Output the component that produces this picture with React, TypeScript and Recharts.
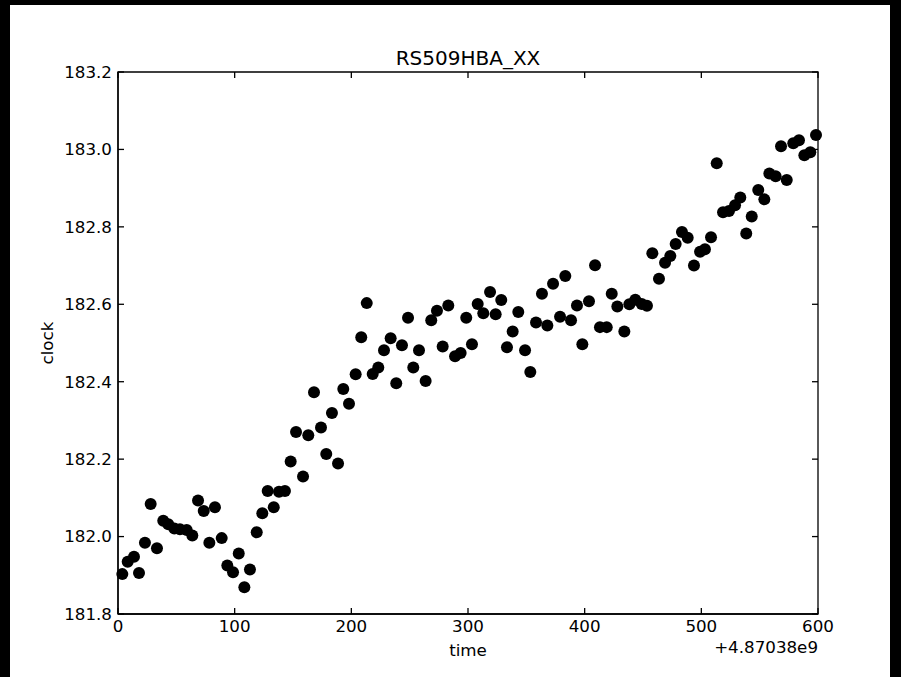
import { ScatterChart, Scatter, XAxis, YAxis, ReferenceArea } from 'recharts';

// time offset from 4.87038e9 (seconds)
const TIMES = [
  3.7, 8.3, 13.7, 18.0, 23.1, 28.0, 33.4, 38.8, 43.1, 48.3,
  53.1, 58.9, 63.7, 68.6, 73.5, 78.3, 83.1, 88.9, 93.7, 98.6,
  103.5, 108.3, 113.1, 118.9, 123.7, 128.3, 133.5, 138.0, 143.1, 148.0,
  152.6, 158.6, 163.1, 168.0, 174.0, 178.5, 183.4, 188.6, 193.1, 198.0,
  203.7, 208.5, 213.2, 218.3, 223.1, 228.0, 233.7, 238.5, 243.4, 248.6,
  253.1, 258.0, 263.7, 268.5, 273.4, 278.3, 283.1, 288.9, 293.7, 298.5,
  303.4, 308.3, 313.1, 318.9, 323.7, 328.5, 333.4, 338.3, 343.1, 348.9,
  353.4, 358.3, 363.4, 368.0, 372.9, 378.9, 383.4, 388.3, 393.4, 398.0,
  403.7, 408.9, 413.1, 418.9, 423.2, 428.0, 434.0, 438.3, 443.4, 448.9,
  453.4, 458.0, 463.7, 468.9, 473.4, 478.0, 483.4, 488.3, 493.7, 498.9,
  503.1, 508.3, 513.2, 518.6, 523.7, 528.9, 533.4, 538.5, 543.2, 548.8,
  554.0, 558.3, 563.7, 568.3, 573.2, 578.8, 583.7, 588.3, 593.4, 598.3,
];

const CLOCK = [
  181.903, 181.935, 181.948, 181.906, 181.984, 182.084, 181.970, 182.041, 182.032, 182.021,
  182.019, 182.017, 182.003, 182.093, 182.066, 181.984, 182.076, 181.996, 181.925, 181.908,
  181.956, 181.869, 181.915, 182.011, 182.060, 182.118, 182.076, 182.116, 182.118, 182.194,
  182.270, 182.155, 182.262, 182.373, 182.282, 182.213, 182.319, 182.189, 182.381, 182.343,
  182.419, 182.515, 182.603, 182.420, 182.437, 182.481, 182.512, 182.396, 182.494, 182.565,
  182.437, 182.481, 182.402, 182.559, 182.583, 182.491, 182.597, 182.466, 182.474, 182.565,
  182.497, 182.601, 182.577, 182.632, 182.574, 182.611, 182.489, 182.530, 182.580, 182.481,
  182.425, 182.553, 182.627, 182.545, 182.653, 182.568, 182.673, 182.559, 182.597, 182.497,
  182.608, 182.701, 182.541, 182.541, 182.627, 182.594, 182.530, 182.600, 182.612, 182.601,
  182.596, 182.732, 182.666, 182.707, 182.725, 182.756, 182.787, 182.772, 182.700, 182.736,
  182.742, 182.773, 182.964, 182.838, 182.841, 182.856, 182.876, 182.783, 182.827, 182.895,
  182.871, 182.938, 182.931, 183.008, 182.921, 183.016, 183.024, 182.985, 182.993, 183.037,
];

const X_TICKS = [0, 100, 200, 300, 400, 500, 600];
const Y_TICKS = [181.8, 182.0, 182.2, 182.4, 182.6, 182.8, 183.0, 183.2];
const X_DOMAIN = [0, 600];
const Y_DOMAIN = [181.8, 183.2];

const FONT = '"DejaVu Sans", sans-serif';
const TICK_STYLE = { fontSize: 16.7, fill: '#000', fontFamily: FONT };
const LINE = { stroke: '#000', strokeWidth: 1.3 };

const Dot = (props: any) => <circle cx={props.cx} cy={props.cy} r={6} fill="#000" />;
const NoDot = () => <g />;

// axes that only draw inward tick marks (matplotlib style)
const inwardX = (id: string, orientation: 'top' | 'bottom') => (
  <XAxis
    key={id}
    xAxisId={id}
    orientation={orientation}
    type="number"
    dataKey="time"
    domain={X_DOMAIN}
    ticks={X_TICKS}
    mirror
    height={6}
    tickFormatter={() => ''}
    tickSize={6}
    axisLine={false}
    tickLine={LINE}
  />
);

const inwardY = (id: string, orientation: 'left' | 'right') => (
  <YAxis
    key={id}
    yAxisId={id}
    orientation={orientation}
    type="number"
    dataKey="clock"
    domain={Y_DOMAIN}
    ticks={Y_TICKS}
    mirror
    width={6}
    tickFormatter={() => ''}
    tickSize={6}
    axisLine={false}
    tickLine={LINE}
  />
);

export default function App() {
  const points = TIMES.map((t, i) => ({ time: t, clock: CLOCK[i] }));

  return (
    <div style={{ position: 'fixed', left: 0, top: 0, width: 901, height: 677, background: '#000' }}>
      <div style={{ position: 'absolute', left: 10, top: 5, width: 880, height: 672, background: '#fff' }} />
      <div style={{ position: 'absolute', left: 0, top: 0 }}>
        <ScatterChart
          width={901}
          height={677}
          margin={{ top: 72, right: 83, bottom: 33, left: 58 }}
        >
          <XAxis
            xAxisId="bottom"
            type="number"
            dataKey="time"
            domain={X_DOMAIN}
            ticks={X_TICKS}
            height={30}
            tick={TICK_STYLE}
            tickSize={0}
            tickMargin={6}
            axisLine={LINE}
            tickLine={false}
          />
          <YAxis
            yAxisId="left"
            type="number"
            dataKey="clock"
            domain={Y_DOMAIN}
            ticks={Y_TICKS}
            width={60}
            tick={TICK_STYLE}
            tickFormatter={(v: number) => v.toFixed(1)}
            tickSize={0}
            tickMargin={6}
            axisLine={LINE}
            tickLine={false}
          />
          {inwardX('bIn', 'bottom')}
          {inwardX('tIn', 'top')}
          {inwardY('lIn', 'left')}
          {inwardY('rIn', 'right')}
          <ReferenceArea
            xAxisId="bottom"
            yAxisId="left"
            x1={X_DOMAIN[0]}
            x2={X_DOMAIN[1]}
            y1={Y_DOMAIN[0]}
            y2={Y_DOMAIN[1]}
            fill="none"
            fillOpacity={0}
            stroke="#000"
            strokeWidth={1.3}
            ifOverflow="visible"
          />
          {/* invisible series so the tick-only axes get their scales */}
          <Scatter xAxisId="bIn" yAxisId="lIn" data={points} shape={NoDot} isAnimationActive={false} />
          <Scatter xAxisId="tIn" yAxisId="rIn" data={points} shape={NoDot} isAnimationActive={false} />
          <Scatter
            xAxisId="bottom"
            yAxisId="left"
            data={points}
            shape={Dot}
            isAnimationActive={false}
          />
        </ScatterChart>
      </div>
      <svg
        width={901}
        height={677}
        style={{ position: 'absolute', left: 0, top: 0, pointerEvents: 'none' }}
        fontFamily={FONT}
      >
        <text x={468} y={65} fontSize={20} textAnchor="middle" fill="#000">RS509HBA_XX</text>
        <text x={468} y={656} fontSize={16.7} textAnchor="middle" fill="#000">time</text>
        <text x={818} y={653} fontSize={16.7} textAnchor="end" fill="#000">+4.87038e9</text>
        <text transform="translate(53,343) rotate(-90)" fontSize={16.7} textAnchor="middle" fill="#000">clock</text>
      </svg>
    </div>
  );
}
